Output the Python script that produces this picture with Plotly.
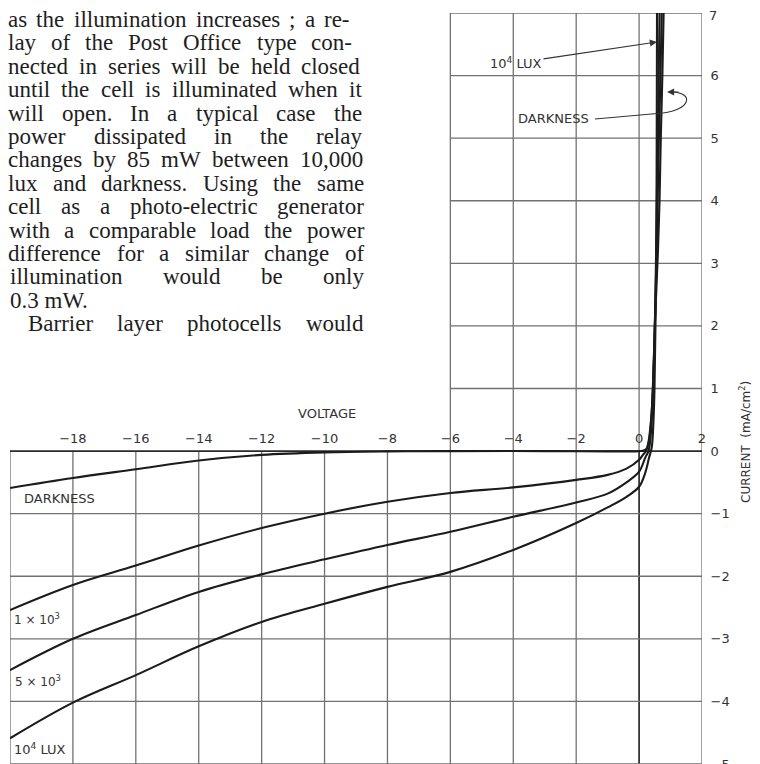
import plotly.graph_objects as go

# the page body adds an 8px margin, so the figure is 8px smaller and
# every position below is given in page pixels and shifted by OFF
OFF = 8
W, H = 760 - OFF, 764 - OFF

# ---- curves: voltage (V) / current (mA/cm2) ----
dark_v = [-20, -18, -16, -14, -12, -10, -8, -6, -3, 0, 0.15, 0.25, 0.33, 0.4, 0.45, 0.5, 0.55, 0.6, 0.65, 0.69, 0.74, 0.78]
dark_i = [-0.59, -0.43, -0.29, -0.15, -0.06, -0.02, -0.005, 0, 0, 0, 0.01, 0.05, 0.2, 0.6, 1.2, 2.0, 2.6, 3.2, 4.0, 5.0, 6.0, 7.0]

lux1k_v = [-20, -18, -16, -14, -12, -10, -8, -6, -4, -2, -1, -0.4, 0, 0.12, 0.22, 0.3, 0.38, 0.44, 0.49, 0.54, 0.59, 0.63, 0.68, 0.72]
lux1k_i = [-2.54, -2.14, -1.83, -1.51, -1.23, -1.0, -0.81, -0.67, -0.58, -0.46, -0.38, -0.28, -0.14, -0.06, 0, 0.15, 0.5, 1.0, 1.8, 2.8, 4.0, 5.0, 6.0, 7.0]

lux5k_v = [-20, -18, -16, -14, -12, -10, -8, -6, -4, -2, -1, -0.4, 0, 0.2, 0.3, 0.36, 0.42, 0.47, 0.51, 0.55, 0.58, 0.62, 0.65]
lux5k_i = [-3.5, -3.0, -2.62, -2.25, -1.97, -1.73, -1.5, -1.29, -1.05, -0.82, -0.68, -0.5, -0.33, -0.1, 0, 0.2, 0.7, 1.4, 2.2, 3.5, 4.6, 5.8, 7.0]

lux10k_v = [-20, -18, -16, -14, -12, -10, -8, -6, -4, -2, -1, -0.4, 0, 0.2, 0.32, 0.4, 0.45, 0.49, 0.52, 0.55, 0.56, 0.57]
lux10k_i = [-4.59, -4.02, -3.58, -3.12, -2.73, -2.44, -2.17, -1.93, -1.58, -1.15, -0.9, -0.73, -0.57, -0.34, -0.1, 0.05, 0.4, 1.0, 2.0, 3.5, 5.0, 7.0]

x_ticks = [-18, -16, -14, -12, -10, -8, -6, -4, -2, 0, 2]
y_ticks = [-5, -4, -3, -2, -1, 0, 1, 2, 3, 4, 5, 6]
y_top = 7  # top label, set a touch lower so it is not clipped by the page edge

# grid of the L-shaped chart
upper_vx = [-6, -4, -2, 0, 2]
upper_hy = [1, 2, 3, 4, 5, 6, 7]
lower_vx = [-20, -18, -16, -14, -12, -10, -8, -6, -4, -2, 0, 2]
lower_hy = [0, -1, -2, -3, -4, -5]

text_lines = [
    "as the illumination increases ; a re-",
    "lay of the Post Office type con-",
    "nected in series will be held closed",
    "until the cell is illuminated when it",
    "will open.  In a typical case the",
    "power dissipated in the relay",
    "changes by 85 mW between 10,000",
    "lux and darkness. Using the same",
    "cell as a photo-electric generator",
    "with a comparable load the power",
    "difference for a similar change of",
    "illumination would be only",
    "0.3 mW.",
    "Barrier layer photocells would",
]
line_left = [8, 8, 8, 8, 8, 8, 8, 8, 8, 9, 8, 10, 10, 28]
line_right = [350, 352, 360, 362, 362, 362, 363, 364, 364, 364, 364, 364, None, 363]

# Times-compatible advance widths (per 1000 em) for justification
TW = dict(a=444, b=500, c=444, d=500, e=444, f=333, g=500, h=500, i=278, j=278, k=500,
          l=278, m=778, n=500, o=500, p=500, q=500, r=333, s=389, t=278, u=500, v=500,
          w=722, x=500, y=500, z=444, B=667, I=333, O=722, P=556, U=722, W=944)
TW.update({",": 250, ".": 250, ";": 278, "-": 333})


def tw(s, size):
    return sum(TW.get(c, 500) for c in s) * size / 1000


def px(x):
    return (x - OFF) / W


def py(y):
    return 1 - (y - OFF) / H


def dx(x):
    return -20 + (x - 10) * 22 / 692


def dy(y):
    return 7 - (y - 13) * 12 / 751


fig = go.Figure()

for v, i in [(dark_v, dark_i), (lux1k_v, lux1k_i), (lux5k_v, lux5k_i), (lux10k_v, lux10k_i)]:
    fig.add_trace(go.Scatter(x=v, y=i, mode="lines",
                             line=dict(color="#1b1b1b", width=2.1, shape="spline", smoothing=1.0),
                             hoverinfo="skip"))

grid = dict(color="#727272", width=1.3)
shapes = []
for x in upper_vx:
    shapes.append(dict(type="line", x0=x, x1=x, y0=0, y1=7, line=grid, layer="below"))
for y in upper_hy:
    shapes.append(dict(type="line", x0=-6, x1=2, y0=y, y1=y, line=grid, layer="below"))
for x in lower_vx:
    ln = dict(color="#2a2a2a", width=1.7) if x == 0 else grid
    shapes.append(dict(type="line", x0=x, x1=x, y0=-5, y1=0, line=ln, layer="below"))
for y in lower_hy:
    ln = dict(color="#2a2a2a", width=1.8) if y == 0 else grid
    shapes.append(dict(type="line", x0=-20, x1=2, y0=y, y1=y, line=ln, layer="below"))

# hooked pointer for DARKNESS (upper)
hook = [(595, 119), (663, 113), (690, 110), (695, 93), (672, 92)]
p = [(dx(a), dy(b)) for a, b in hook]
shapes.append(dict(type="path", xref="x", yref="y",
                   path=f"M {p[0][0]},{p[0][1]} L {p[1][0]},{p[1][1]} "
                        f"C {p[2][0]},{p[2][1]} {p[3][0]},{p[3][1]} {p[4][0]},{p[4][1]}",
                   line=dict(color="#333", width=1.1)))

ann = []
lab = dict(family="DejaVu Sans", size=13, color="#333")

# paragraph, justified word by word
FS = 23
for k, line in enumerate(text_lines):
    yc = 19.5 + 23.4 * k
    font = dict(family="Liberation Serif", size=FS, color="#1e1e1e")
    if line_right[k] is None:
        ann.append(dict(x=px(line_left[k]), y=py(yc), xref="paper", yref="paper", text=line,
                        xanchor="left", yanchor="middle", showarrow=False, font=font,
                        borderpad=0, borderwidth=0))
        continue
    words = line.split()
    widths = [tw(w_, FS) for w_ in words]
    gap = (line_right[k] - line_left[k] - sum(widths)) / (len(words) - 1)
    x = line_left[k]
    for w_, wd in zip(words, widths):
        ann.append(dict(x=px(x), y=py(yc), xref="paper", yref="paper", text=w_,
                        xanchor="left", yanchor="middle", showarrow=False, font=font,
                        borderpad=0, borderwidth=0))
        x += wd + gap

# curve labels, lower part
for t, x, y in [("DARKNESS", 22, 499), ("1 × 10<sup>3</sup>", 12, 619),
                ("5 × 10<sup>3</sup>", 13, 681), ("10<sup>4</sup> LUX", 12, 749)]:
    f = dict(lab, size=12) if "×" in t else lab
    ann.append(dict(x=px(x), y=py(y), xref="paper", yref="paper", text=t, xanchor="left",
                    yanchor="middle", showarrow=False, font=f))

# upper labels with pointers
ann.append(dict(x=dx(657), y=dy(42), xref="x", yref="y", ax=dx(516), ay=dy(63), axref="x", ayref="y",
                text="10<sup>4</sup> LUX", font=lab, showarrow=True, arrowhead=2, arrowsize=1.3,
                arrowwidth=1.1, arrowcolor="#333", standoff=0))
ann.append(dict(x=dx(553), y=dy(118), xref="x", yref="y", text="DARKNESS", font=lab, showarrow=False))
ann.append(dict(x=dx(667), y=dy(92), xref="x", yref="y", ax=dx(680), ay=dy(92), axref="x", ayref="y",
                text="", showarrow=True, arrowhead=2, arrowsize=1.3, arrowwidth=1.1,
                arrowcolor="#333", standoff=0))

# top y label
ann.append(dict(x=px(709), y=py(8), xref="paper", yref="paper", text=str(y_top),
                xanchor="left", yanchor="top", showarrow=False, font=lab,
                borderpad=0, borderwidth=0))

# axis titles
ann.append(dict(x=px(327), y=py(413), xref="paper", yref="paper", text="VOLTAGE",
                xanchor="center", showarrow=False, font=lab))
ann.append(dict(x=px(745), y=py(442), xref="paper", yref="paper", text="CURRENT  (mA/cm<sup>2</sup>)",
                xanchor="center", yanchor="middle", textangle=-90, showarrow=False,
                font=dict(lab, size=12)))

fig.update_layout(
    width=W, height=H, margin=dict(l=0, r=0, t=0, b=0, autoexpand=False),
    paper_bgcolor="white", plot_bgcolor="white", showlegend=False,
    shapes=shapes, annotations=ann,
    xaxis=dict(range=[-20, 2], domain=[(10 - OFF) / W, (702 - OFF) / W], side="top", anchor="free",
               position=py(451), tickvals=x_ticks, ticks="outside", ticklen=3,
               tickcolor="rgba(0,0,0,0)", tickfont=lab, showgrid=False, zeroline=False,
               showline=False, fixedrange=True, automargin=False),
    yaxis=dict(range=[-5, 7], domain=[py(764), py(13)], side="right", anchor="x",
               tickvals=y_ticks, ticks="outside", ticklen=5, tickcolor="rgba(0,0,0,0)",
               tickfont=lab, ticklabeloverflow="allow", showgrid=False, zeroline=False,
               showline=False, fixedrange=True, automargin=False),
)

fig.write_html("out.html")
